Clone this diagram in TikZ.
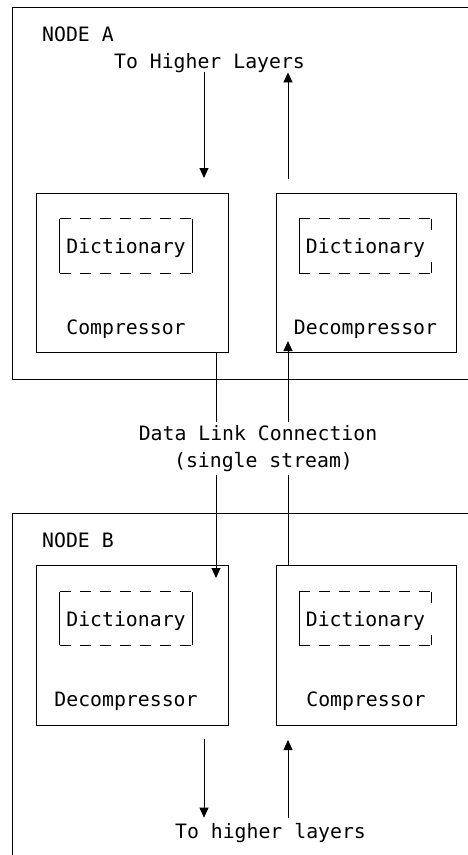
\documentclass[tikz,border=0pt]{standalone}
\usepackage{fontspec}
\usepackage{tikz}
\usetikzlibrary{arrows.meta}
\usetikzlibrary{positioning}
\newfontfamily\diagfont{DejaVu Sans Mono}

\tikzset{
	every node/.style={font=\diagfont\fontsize{19.8}{27.5}\selectfont, inner sep=0pt},
	unit/.style={draw, line width=0.9pt, minimum height=159pt},
	dict/.style={minimum width=132pt, minimum height=54pt, text depth=0pt},
	txt/.style={anchor=base},
	wire/.style={line width=0.9pt},
	flow/.style={line width=0.9pt, -{Triangle[length=10pt,width=9pt]}},
	dashline/.style={line width=0.9pt, dash pattern=on 11pt off 9pt},
	linktxt/.style={anchor=base, inner ysep=3pt}
}

\begin{document}
\begin{tikzpicture}[x=1pt, y=-1pt]
	\useasboundingbox (0,0) rectangle (467,855);
	
	\draw[wire] (12,7) rectangle (480,379);
	\draw[wire] (12,513) rectangle (480,875);
	
	\node[txt, anchor=base west] (nameA) at (42,41) {NODE A};
	\node[txt] (higherA) at (209.5,68) {To Higher Layers};
	
	\node[unit, minimum width=192pt] (compA) at (132,272.5) {};
	\node[unit, minimum width=180pt] (decompA) at (366,272.5) {};
	\node[dict] (dictA1) at (126,246) {Dictionary};
	\node[dict] (dictA2) at (365.5,246) {Dictionary};
	\node[txt] (compAtxt) at (126,334) {Compressor};
	\node[txt] (decompAtxt) at (365.5,334) {Decompressor};
	
	\coordinate (inA) at (204,178);
	\coordinate (outA) at (288,179);
	\draw[flow] (higherA.south -| inA) -- (inA);
	\draw[flow] (outA) -- (higherA.south -| outA);
	
	\node[linktxt] (link1) at (258,440) {Data Link Connection};
	\node[linktxt] (link2) at (263.5,467.5) {(single stream)};
	
	\node[txt, anchor=base west] (nameB) at (42,547) {NODE B};
	
	\node[unit, minimum width=192pt, minimum height=160pt] (decompB) at (132,645) {};
	\node[unit, minimum width=180pt, minimum height=160pt] (compB) at (366,645) {};
	\node[dict, minimum height=53pt] (dictB1) at (126,618.5) {Dictionary};
	\node[dict, minimum height=53pt] (dictB2) at (365.5,618.5) {Dictionary};
	\node[txt] (decompBtxt) at (126,706) {Decompressor};
	\node[txt] (compBtxt) at (366,706) {Compressor};
	
	\foreach \d in {dictA1,dictA2,dictB1,dictB2}{
		\draw[dashline] (\d.north west) -- (\d.north east);
		\draw[dashline] (\d.south west) -- (\d.south east);
		\draw[wire] (\d.north west) -- (\d.south west);
	}
	\foreach \d in {dictA1,dictB1}
		\draw[wire] (\d.north east) -- (\d.south east);
	\foreach \d in {dictA2,dictB2}
		\draw[wire, dash pattern=on 11pt off 32pt] (\d.north east) -- (\d.south east);
	
	\coordinate (lnkL) at (216,578);
	\coordinate (lnkR) at (288,341);
	\draw[wire] (compA.south -| lnkL) -- (link1.north -| lnkL);
	\draw[flow] (link2.south -| lnkL) -- (lnkL);
	\draw[wire] (compB.north -| lnkR) -- (link2.south -| lnkR);
	\draw[flow] (link1.north -| lnkR) -- (lnkR);
	
	\node[txt, inner ysep=5pt] (higherB) at (270.5,838) {To higher layers};
	\coordinate (outB) at (204,739);
	\coordinate (inB) at (288,740);
	\draw[flow] (outB) -- (higherB.north -| outB);
	\draw[flow] (higherB.north -| inB) -- (inB);
\end{tikzpicture}
\end{document}
